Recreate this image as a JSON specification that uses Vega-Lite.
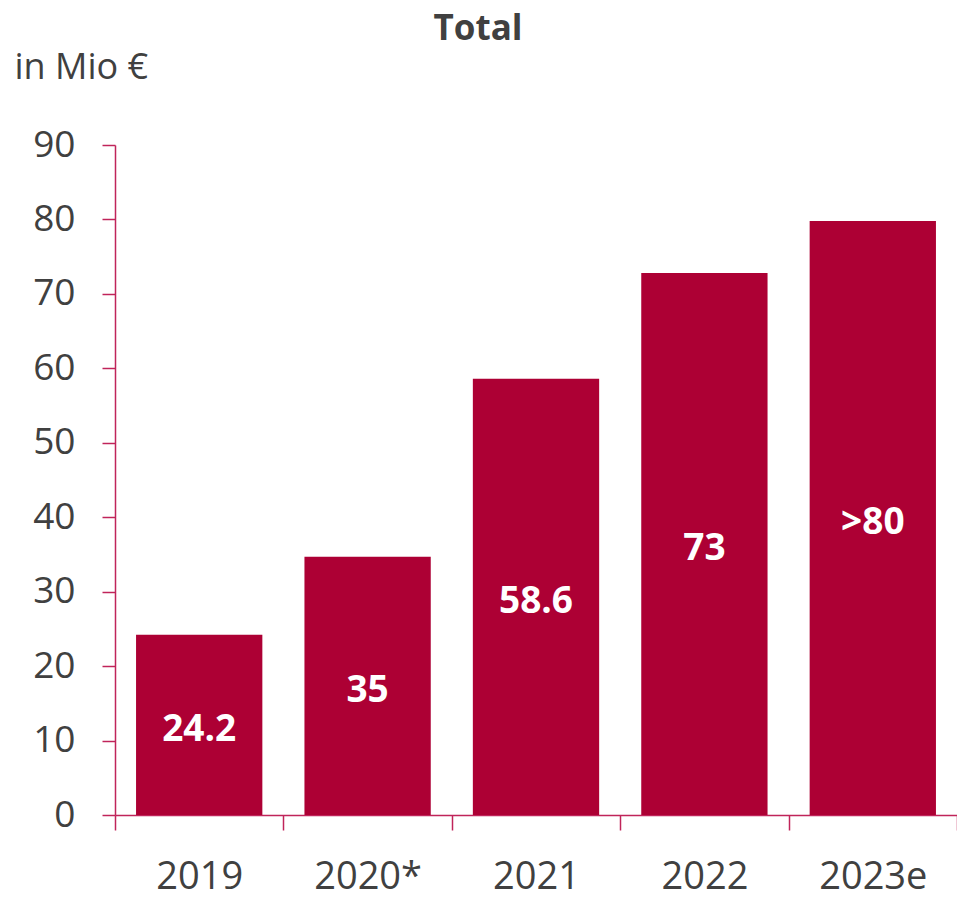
{
  "$schema": "https://vega.github.io/schema/vega-lite/v6.json",
  "width": 842,
  "height": 670,
  "autosize": "none",
  "padding": {"left": 115, "top": 145, "right": 0, "bottom": 83},
  "background": "white",
  "config": {"view": {"stroke": null}, "font": "Open Sans"},
  "title": {
    "text": "Total",
    "fontSize": 35,
    "fontWeight": "bold",
    "color": "#404040",
    "anchor": "middle",
    "dx": -58,
    "offset": 2,
    "font": "Open Sans"
  },
  "data": {
    "values": [
      {"year": "2019", "value": 24.2, "label": "24.2"},
      {"year": "2020*", "value": 34.7, "label": "35"},
      {"year": "2021", "value": 58.6, "label": "58.6"},
      {"year": "2022", "value": 72.8, "label": "73"},
      {"year": "2023e", "value": 79.8, "label": ">80"}
    ]
  },
  "transform": [{"calculate": "datum.value / 2", "as": "mid"}],
  "encoding": {
    "x": {
      "field": "year",
      "type": "nominal",
      "sort": null,
      "scale": {"paddingInner": 0, "paddingOuter": 0},
      "axis": {
        "title": null,
        "labelAngle": 0,
        "labelFontSize": 38,
        "labelColor": "#404040",
        "labelPadding": 28,
        "tickBand": "extent",
        "tickSize": 15,
        "tickColor": "#C0245A",
        "domainColor": "#C0245A",
        "domainWidth": 1.5,
        "tickWidth": 1.5
      }
    }
  },
  "layer": [
    {
      "mark": {"type": "bar", "color": "#AD0034", "width": {"band": 0.75}},
      "encoding": {
        "y": {
          "field": "value",
          "type": "quantitative",
          "scale": {"domain": [0, 90], "nice": false},
          "axis": {
            "values": [0, 10, 20, 30, 40, 50, 60, 70, 80, 90],
            "grid": false,
            "title": "in Mio €",
            "titleAngle": 0,
            "titleAlign": "left",
            "titleBaseline": "alphabetic",
            "titleX": -101,
            "titleY": -67,
            "titleFontSize": 36,
            "titleFontWeight": "normal",
            "titleColor": "#404040",
            "labelFontSize": 37,
            "labelColor": "#404040",
            "labelPadding": 27,
            "tickSize": 13,
            "tickColor": "#C0245A",
            "domainColor": "#C0245A",
            "domainWidth": 1.5,
            "tickWidth": 1.5
          }
        }
      }
    },
    {
      "mark": {"type": "text", "color": "white", "fontSize": 37, "fontWeight": "bold", "baseline": "middle", "dy": 5, "font": "Open Sans"},
      "encoding": {
        "y": {"field": "mid", "type": "quantitative"},
        "text": {"field": "label"}
      }
    }
  ]
}
